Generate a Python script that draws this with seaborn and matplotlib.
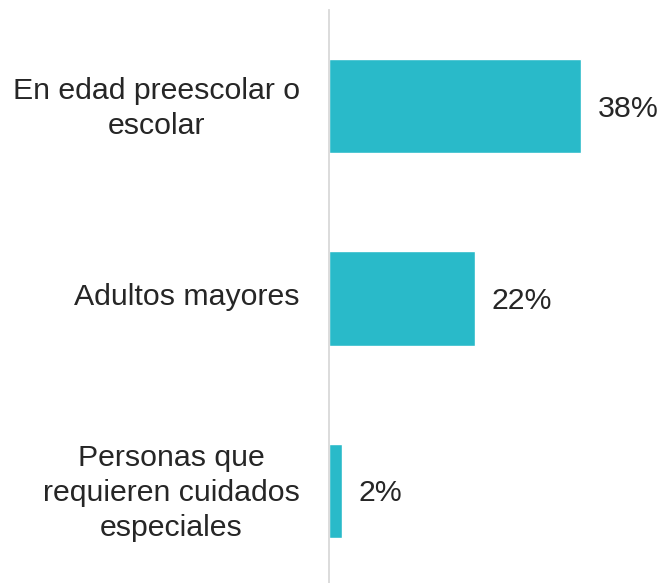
import matplotlib
matplotlib.use("Agg")
import matplotlib.pyplot as plt
import matplotlib.transforms as mtransforms
import seaborn as sns
import pandas as pd

categories = ["En edad preescolar o\nescolar", "Adultos mayores", "Personas que\nrequieren cuidados\nespeciales"]
values = [38, 22, 2]
value_labels = ["38%", "22%", "2%"]

df = pd.DataFrame({"cat": categories, "val": values})

sns.set_style("white")
plt.rcParams['font.family'] = ['Liberation Sans', 'DejaVu Sans']

W, H = 663, 583
fig = plt.figure(figsize=(W / 100, H / 100), dpi=100)
ax = fig.add_axes([329 / W, 0, 1 - 329 / W, 1 - 10 / H])

sns.barplot(data=df, x="val", y="cat", orient="h", color="#29BAC9", width=0.49,
            saturation=1, ax=ax)

ax.set_xlim(0, (W - 329) / 6.63)
ax.set_ylim(2.48, -0.5)
ax.set_xlabel("")
ax.set_ylabel("")
ax.set_xticks([])
for s in ["top", "right", "bottom"]:
    ax.spines[s].set_visible(False)
ax.spines["left"].set_color("#D9D9D9")
ax.spines["left"].set_linewidth(1.3)

ax.tick_params(axis="y", length=0, pad=21, labelsize=21.8, labelcolor="#262626")
shift = mtransforms.ScaledTranslation(0, 4 / 100, fig.dpi_scale_trans)
for lab in ax.get_yticklabels():
    lab.set_multialignment("center")
    lab.set_linespacing(1.32)
    lab.set_transform(lab.get_transform() + shift)

for i, (v, t) in enumerate(zip(values, value_labels)):
    ax.annotate(t, xy=(v, i), xytext=(12, -2), textcoords="offset points",
                va="center", ha="left", fontsize=21.8, color="#262626")

fig.savefig("out.png", dpi=100)
